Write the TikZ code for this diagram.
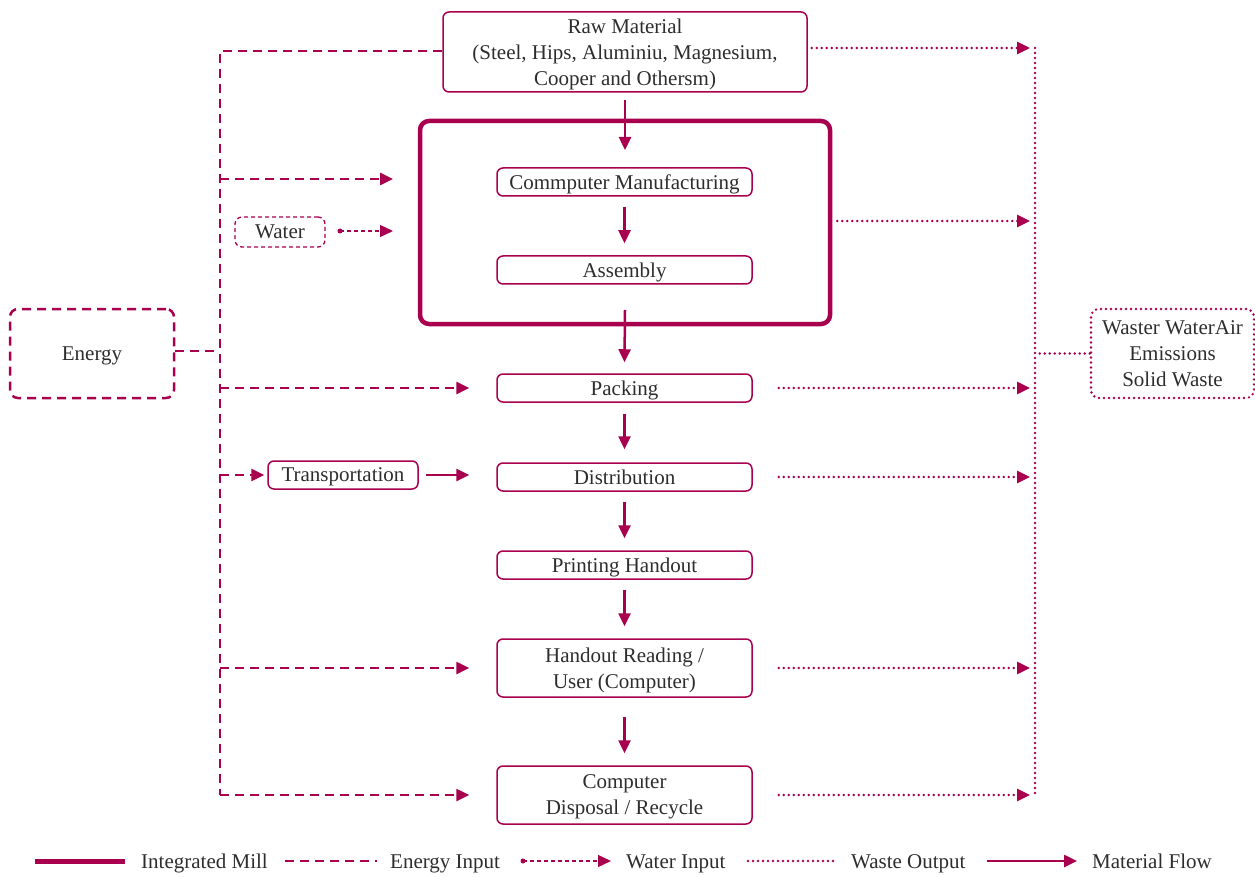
\documentclass[tikz,border=0pt]{standalone}
\usepackage{fontspec}
\setmainfont{Liberation Serif}
\usetikzlibrary{arrows.meta}
\definecolor{cr}{RGB}{168,0,78}
\definecolor{tx}{RGB}{45,45,45}
\begin{document}
\begin{tikzpicture}[x=1pt,y=-1pt,
  txt/.style={text=tx,font=\fontsize{21}{26}\selectfont,align=center,inner sep=0pt,text depth=0pt},
  box/.style={txt,draw=cr,line width=1.5pt,rounded corners=6pt,minimum width=255pt,minimum height=28pt},
  millbox/.style={draw=cr,line width=4.5pt,rounded corners=9pt,minimum width=410pt,minimum height=203pt,inner sep=0pt},
  enbox/.style={txt,draw=cr,line width=2.5pt,rounded corners=8pt,dash pattern=on 9pt off 6pt},
  wabox/.style={txt,draw=cr,line width=1.3pt,rounded corners=7pt,dash pattern=on 4pt off 3pt},
  wsbox/.style={txt,draw=cr,line width=2.6pt,rounded corners=8pt,line cap=round,dash pattern=on 0pt off 5pt},
  tip/.style={-{Triangle[length=13pt,width=12pt]}},
  mat/.style={draw=cr,line width=2.5pt,tip},
  en/.style={draw=cr,line width=2.5pt,dash pattern=on 9pt off 6pt},
  wa/.style={draw=cr,line width=1.3pt,dash pattern=on 4pt off 3pt},
  ws/.style={draw=cr,line width=2.6pt,line cap=round,dash pattern=on 0pt off 5pt},
  mill/.style={draw=cr,line width=5pt},
  lg/.style={txt,anchor=base west}]
\useasboundingbox (0,0) rectangle (1255,877);
% nodes
\node[box,minimum width=364pt,minimum height=80pt] (raw) at (625,52) {Raw Material\\(Steel, Hips, Aluminiu, Magnesium,\\Cooper and Othersm)};
\node[millbox] (millb) at (625,222.5) {};
\node[box] (manu) at (624.5,182) {Commputer Manufacturing};
\node[box] (asm) at (624.5,270) {Assembly};
\node[box] (pack) at (624.5,388) {Packing};
\node[box] (dist) at (624.5,477) {Distribution};
\node[box] (print) at (624.5,565) {Printing Handout};
\node[box,minimum height=58pt] (read) at (624.5,668) {Handout Reading /\\User (Computer)};
\node[box,minimum height=58pt] (disp) at (624.5,795) {Computer\\Disposal / Recycle};
\node[enbox,minimum width=164pt,minimum height=89pt] (energy) at (92,353.5) {Energy};
\node[wabox,minimum width=90pt,minimum height=30pt] (water) at (280,232) {Water};
\node[box,minimum width=150pt] (trans) at (343,475) {Transportation};
\node[wsbox,minimum width=163pt,minimum height=89pt] (waste) at (1172.5,353.5) {Waster WaterAir\\Emissions\\Solid Waste};
% energy trunk
\coordinate (eT) at (220,51);
\coordinate (eB) at (220,795);
\coordinate (eE) at (220,351);
\draw[en] (raw.west |- eT) -- (eT) -- (eB);
\draw[en] (energy.east |- eE) -- (eE);
\coordinate (e1a) at (220,179); \coordinate (e1b) at (393,179);
\draw[en,tip] (e1a) -- (e1b);
\draw[en,tip] (pack.west -| eT) -- ([xshift=-27pt]pack.west);
\draw[en,tip] (trans.west -| eT) -- ([xshift=-3pt]trans.west);
\draw[en,tip] (read.west -| eT) -- ([xshift=-27pt]read.west);
\draw[en,tip] (disp.west -| eT) -- ([xshift=-27pt]disp.west);
% water
\coordinate (w1) at (340,231); \coordinate (w2) at (393,231);
\fill[cr] (w1) circle (2.5pt);
\draw[wa,tip] (w1) -- (w2);
% transportation
\draw[mat] ([xshift=7pt]trans.east) -- ([xshift=-27pt]dist.west |- trans.east);
% material flow
\draw[mat] ([yshift=-7pt]raw.south) -- (625,150);
\draw[mat] ([yshift=-10pt]manu.south) -- ([yshift=12pt]asm.north);
\draw[mat] (625,310) -- ([yshift=11pt]pack.north);
\draw[mat] ([yshift=-11pt]pack.south) -- ([yshift=13pt]dist.north);
\draw[mat] ([yshift=-10pt]dist.south) -- ([yshift=12pt]print.north);
\draw[mat] ([yshift=-10pt]print.south) -- ([yshift=12pt]read.north);
\draw[mat] ([yshift=-19pt]read.south) -- ([yshift=12pt]disp.north);
% waste trunk
\coordinate (wT) at (1035,48);
\coordinate (wB) at (1035,793);
\draw[ws] (wT) -- (wB);
\draw[ws] (waste.west) -- (waste.west -| wT);
\draw[ws,tip,shorten >=5pt] ([xshift=4pt]raw.east |- wT) -- (wT);
\draw[ws,tip,shorten >=5pt] ([xshift=5pt]millb.east |- 0,221) -- (wT |- 0,221);
\draw[ws,tip,shorten >=5pt] ([xshift=26pt]pack.east) -- (pack.east -| wT);
\draw[ws,tip,shorten >=5pt] ([xshift=26pt]dist.east) -- (dist.east -| wT);
\draw[ws,tip,shorten >=5pt] ([xshift=26pt]read.east) -- (read.east -| wT);
\draw[ws,tip,shorten >=5pt] ([xshift=26pt]disp.east) -- (disp.east -| wT);
% legend
\coordinate (l1a) at (35,861); \coordinate (l1b) at (125,861);
\draw[mill] (l1a) -- (l1b);
\node[lg] (lt1) at (141,868) {Integrated Mill};
\coordinate (l2a) at (285,861); \coordinate (l2b) at (377,861);
\draw[en] (l2a) -- (l2b);
\node[lg] (lt2) at (390,868) {Energy Input};
\coordinate (l3a) at (523,861); \coordinate (l3b) at (611,861);
\fill[cr] (l3a) circle (2.5pt);
\draw[wa,tip] (l3a) -- (l3b);
\node[lg] (lt3) at (626,868) {Water Input};
\coordinate (l4a) at (748,861); \coordinate (l4b) at (836,861);
\draw[ws] (l4a) -- (l4b);
\node[lg] (lt4) at (851,868) {Waste Output};
\coordinate (l5a) at (987,861); \coordinate (l5b) at (1077,861);
\draw[mat] (l5a) -- (l5b);
\node[lg] (lt5) at (1092,868) {Material Flow};
\end{tikzpicture}
\end{document}
